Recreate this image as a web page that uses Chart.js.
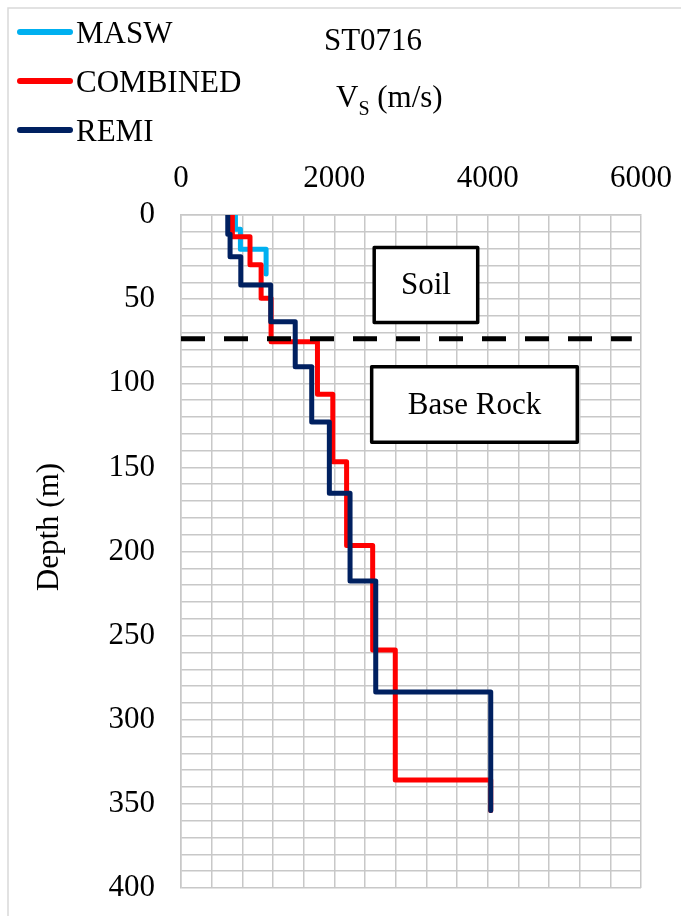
<!DOCTYPE html>
<html>
<head>
<meta charset="utf-8">
<script src="https://cdn.jsdelivr.net/npm/chart.js@4.4.1/dist/chart.umd.min.js"></script>
<style>
  html, body { margin: 0; padding: 0; background: #fff; }
  #wrap { width: 681px; height: 916px; }
</style>
</head>
<body>
<div id="wrap"><canvas id="chart" width="681" height="916"></canvas></div>
<script>
// layer boundaries (m, last one = bottom of profile) and Vs of each layer (m/s)
const maswDepth = [0, 8.5, 20.3, 35]
const maswVs = [710, 775, 1110]

const combinedDepth = [0, 13, 29.5, 49.5, 75.3, 106.5, 146.6, 196.5, 258.5, 335.8, 354]
const combinedVs = [670, 900, 1045, 1175, 1780, 1980, 2160, 2500, 2795, 4040]

const remiDepth = [0, 11.5, 24.8, 41.6, 63.4, 90.2, 123, 165.4, 217.5, 283.5, 354]
const remiVs = [610, 640, 780, 1170, 1490, 1705, 1935, 2205, 2540, 4040]

// soil / base rock boundary
const boundaryDepth = 73.5
const boundaryVs = [0, 5880]

const xLabels = [0, 2000, 4000, 6000]
const yLabels = [0, 50, 100, 150, 200, 250, 300, 350, 400]

const FONT = "'Liberation Serif', 'Times New Roman', serif"

function profile(depths, vs) {
    return depths.map((d, i) => ({ x: vs[Math.min(i, vs.length - 1)], y: d }))
}

const annotations = [
    { text: "Soil", xMin: 2520, xMax: 3870, yMin: 19.3, yMax: 63.9 },
    { text: "Base Rock", xMin: 2487, xMax: 5169, yMin: 90.2, yMax: 135.1 },
]

const decor = {
    id: "decor",
    beforeDraw(chart) {
        const ctx = chart.ctx
        ctx.save()
        ctx.fillStyle = "#fff"
        ctx.fillRect(0, 0, chart.width, chart.height)
        ctx.strokeStyle = "#d9d9d9"
        ctx.lineWidth = 1.5
        ctx.strokeRect(8, 8, chart.width + 20, chart.height + 20)
        ctx.restore()
    },
    afterDatasetsDraw(chart) {
        const ctx = chart.ctx
        const { x, y } = chart.scales
        ctx.save()
        annotations.forEach(a => {
            const left = x.getPixelForValue(a.xMin)
            const right = x.getPixelForValue(a.xMax)
            const top = y.getPixelForValue(a.yMin)
            const bottom = y.getPixelForValue(a.yMax)
            ctx.fillStyle = "#fff"
            ctx.fillRect(left, top, right - left, bottom - top)
            ctx.strokeStyle = "#000"
            ctx.lineWidth = 3.5
            ctx.lineJoin = "round"
            ctx.strokeRect(left, top, right - left, bottom - top)
            ctx.fillStyle = "#000"
            ctx.font = "31px " + FONT
            ctx.textAlign = "center"
            ctx.textBaseline = "middle"
            ctx.fillText(a.text, (left + right) / 2, (top + bottom) / 2 + 1)
        })
        ctx.restore()
    },
    afterDraw(chart) {
        const ctx = chart.ctx
        ctx.save()
        // legend
        const items = chart.data.datasets.filter(d => d.inLegend)
        items.forEach((d, i) => {
            const ly = 32 + i * 49
            ctx.strokeStyle = d.borderColor
            ctx.lineWidth = 6
            ctx.lineCap = "round"
            ctx.beginPath()
            ctx.moveTo(20, ly)
            ctx.lineTo(70, ly)
            ctx.stroke()
            ctx.fillStyle = "#000"
            ctx.font = "31px " + FONT
            ctx.textAlign = "left"
            ctx.textBaseline = "alphabetic"
            ctx.fillText(d.label, 76, ly + 11)
        })
        // title
        ctx.fillStyle = "#000"
        ctx.textBaseline = "alphabetic"
        ctx.textAlign = "center"
        ctx.font = "31px " + FONT
        ctx.fillText("ST0716", 373, 50)
        // x axis title with subscript
        ctx.textAlign = "left"
        let tx = 336
        ctx.fillText("V", tx, 107)
        tx += ctx.measureText("V").width
        ctx.font = "20px " + FONT
        ctx.fillText("S", tx, 115)
        tx += ctx.measureText("S").width
        ctx.font = "31px " + FONT
        ctx.fillText(" (m/s)", tx, 107)
        // y axis title
        ctx.translate(50, 527)
        ctx.rotate(-Math.PI / 2)
        ctx.textAlign = "center"
        ctx.textBaseline = "middle"
        ctx.fillText("Depth (m)", 0, 0)
        ctx.restore()
    }
}

const lineStyle = {
    showLine: true,
    stepped: "after",
    pointRadius: 0,
    borderWidth: 5,
    borderJoinStyle: "round",
    borderCapStyle: "round",
    fill: false,
}

const context = document.getElementById("chart").getContext("2d")

const chart = new Chart(context, {
    type: "scatter",
    data: {
        datasets: [
            { ...lineStyle, label: "MASW", data: profile(maswDepth, maswVs), borderColor: "#00b0f0", backgroundColor: "#00b0f0", order: 3, inLegend: true },
            { ...lineStyle, label: "COMBINED", data: profile(combinedDepth, combinedVs), borderColor: "#ff0000", backgroundColor: "#ff0000", order: 2, inLegend: true },
            { ...lineStyle, label: "REMI", data: profile(remiDepth, remiVs), borderColor: "#002060", backgroundColor: "#002060", order: 1, inLegend: true },
            {
                label: "Boundary",
                data: boundaryVs.map(v => ({ x: v, y: boundaryDepth })),
                showLine: true,
                pointRadius: 0,
                borderWidth: 5,
                borderColor: "#000",
                borderDash: [24, 19],
                borderCapStyle: "butt",
                order: 0,
            },
        ],
    },
    options: {
        responsive: false,
        animation: false,
        layout: { padding: { top: 0, left: 0, right: 40, bottom: 28 } },
        plugins: {
            legend: { display: false },
            title: { display: false },
            tooltip: { enabled: false },
        },
        scales: {
            x: {
                type: "linear",
                position: "top",
                min: 0,
                max: 6000,
                afterFit: s => {
                    s.height = 215
                    s.paddingLeft = 0
                    s.paddingRight = 0
                },
                grid: { color: "#c8c8c8", lineWidth: 1.5, drawTicks: false },
                border: { color: "#c8c8c8", width: 1.5 },
                ticks: {
                    stepSize: 400,
                    maxTicksLimit: 100,
                    autoSkip: false,
                    maxRotation: 0,
                    padding: 18,
                    color: "#000",
                    font: { family: FONT, size: 31 },
                    callback: v => xLabels.includes(v) ? String(v) : "",
                },
            },
            y: {
                type: "linear",
                reverse: true,
                min: 0,
                max: 400,
                afterFit: s => {
                    s.width = 181
                    s.paddingTop = 0
                    s.paddingBottom = 0
                },
                grid: { color: "#c8c8c8", lineWidth: 1.5, drawTicks: false },
                border: { color: "#c8c8c8", width: 1.5 },
                ticks: {
                    stepSize: 10,
                    maxTicksLimit: 100,
                    autoSkip: false,
                    padding: 26,
                    color: "#000",
                    font: { family: FONT, size: 31 },
                    callback: v => yLabels.includes(v) ? String(v) : "",
                },
            },
        },
    },
    plugins: [decor],
})
</script>
</body>
</html>
